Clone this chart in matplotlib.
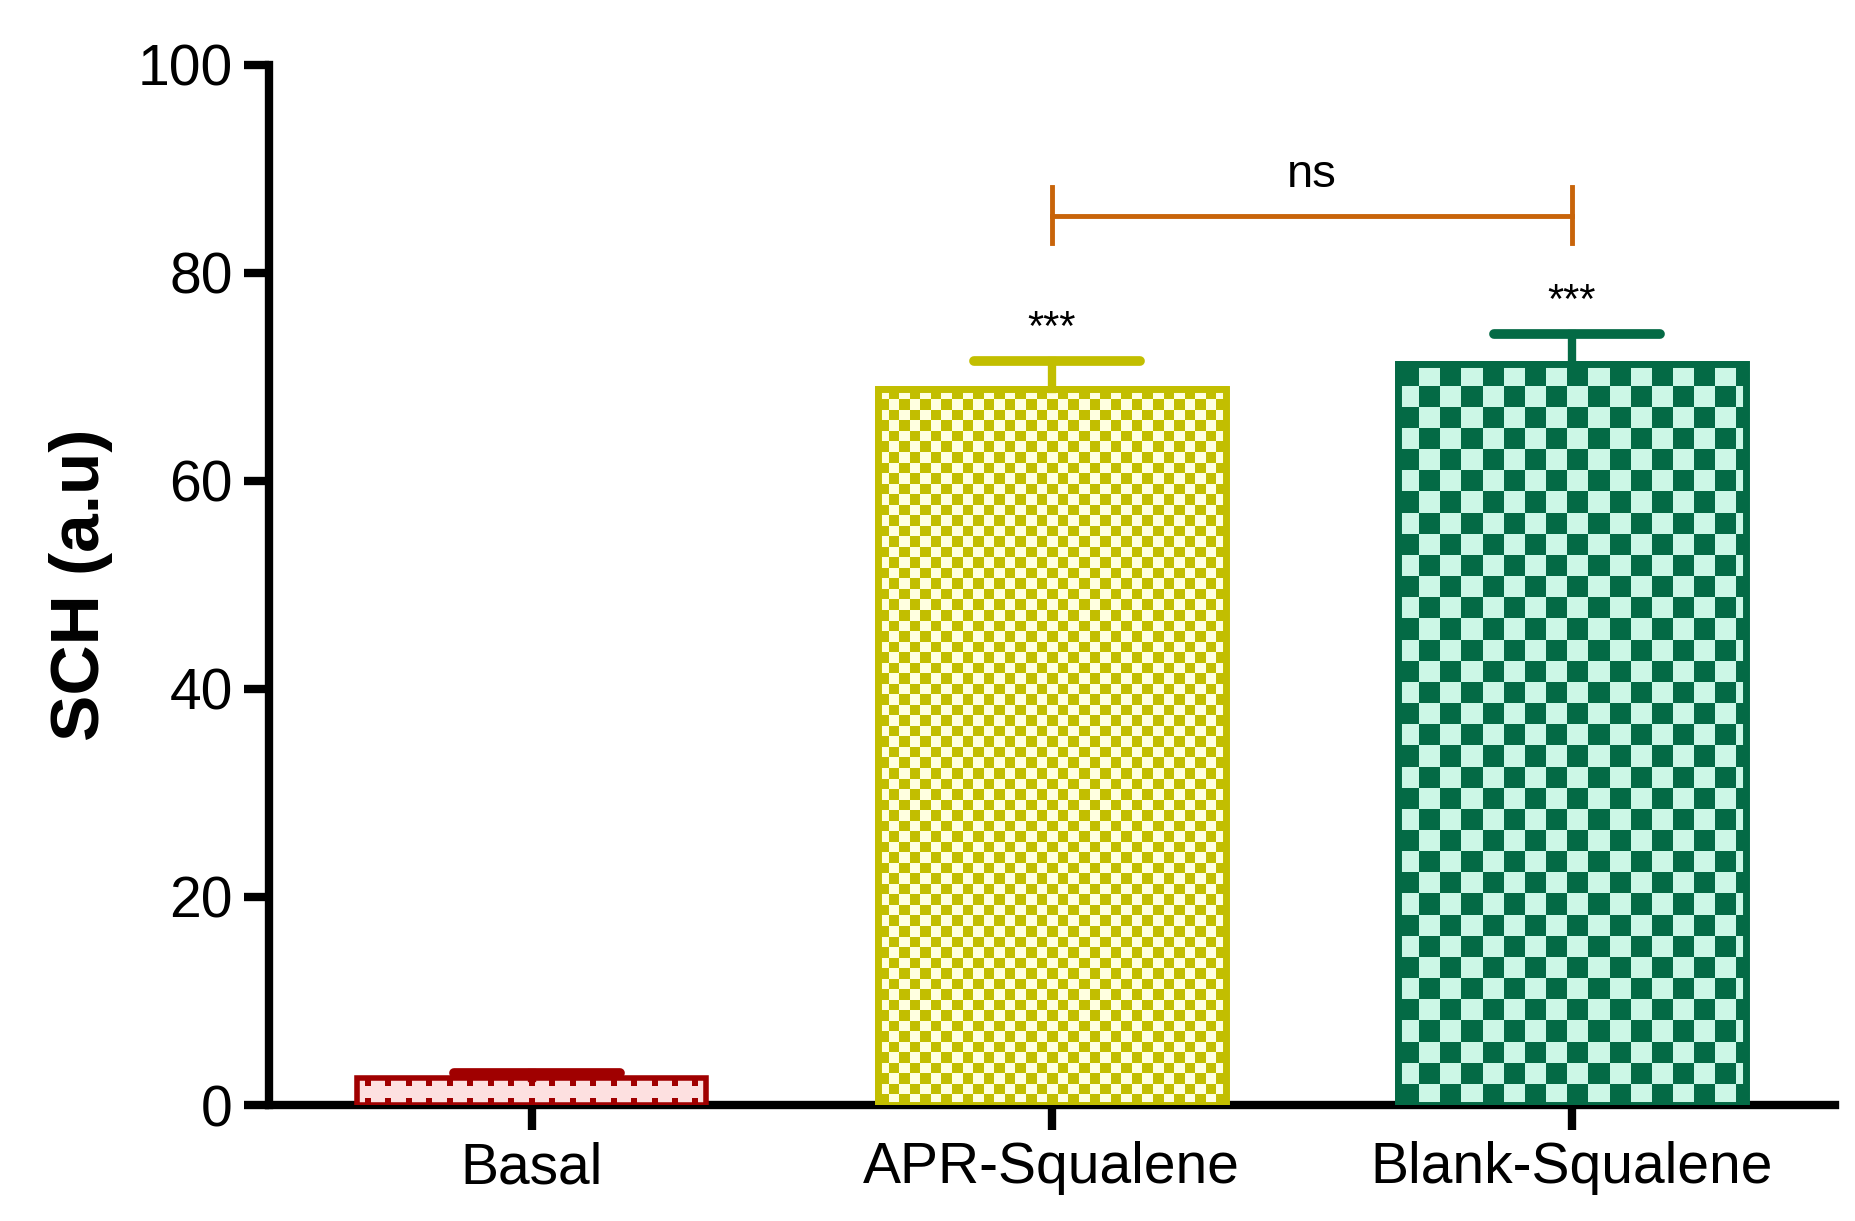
import numpy as np
import matplotlib.pyplot as plt
from matplotlib.colors import ListedColormap

plt.rcParams['font.family'] = ['Liberation Sans', 'DejaVu Sans']

groups = ['Basal', 'APR-Squalene', 'Blank-Squalene']
means = [2.6, 68.8, 71.2]
errs = [0.5, 2.7, 2.9]
stars = ['', '***', '***']
dark = ['#A00000', '#C2BE00', '#046A45']
light = ['#FDE0E0', '#FFFFE0', '#CCF7E6']
cells_x = [0, 33, 16.5]   # checker squares across bar

fig = plt.figure(figsize=(18.55, 12.21), dpi=100)
ax = fig.add_axes([0.145, 0.095, 0.844, 0.852])
width = 0.67
x = np.arange(len(groups))

for i in range(len(groups)):
    bars = ax.bar(x[i], means[i], width, facecolor=light[i], edgecolor=dark[i],
                  linewidth=4, zorder=3)
    patch = bars[0]
    if cells_x[i]:
        nx = cells_x[i]
        cell_px = 348.0 * 1.0 / 16.5 if i == 2 else 10.5
        bar_px = means[i] * 8.77 * 1.183
        ny = bar_px / cell_px
        nxi, nyi = int(np.ceil(nx)), int(np.ceil(ny))
        board = (np.add.outer(np.arange(nyi), np.arange(nxi)) % 2).astype(float)
        x0 = x[i] - width / 2
        x1 = x0 + width * nxi / nx
        y1 = means[i] * nyi / ny
        im = ax.imshow(board, cmap=ListedColormap([dark[i], light[i]]),
                       extent=[x0, x1, 0, y1], origin='lower', aspect='auto',
                       interpolation='nearest', zorder=3)
        im.set_clip_path(patch)
        ax.bar(x[i], means[i], width, facecolor='none', edgecolor=dark[i],
               linewidth=5, zorder=4)
    else:
        # dotted pattern of basal bar
        xs = np.linspace(x[i] - width / 2 + 0.02, x[i] + width / 2 - 0.02, 17)
        ax.scatter(xs, np.full_like(xs, 0.35), marker='s', s=18, color=dark[i], zorder=4, lw=0)
        ax.scatter(xs, np.full_like(xs, means[i] - 0.45), marker='s', s=18, color=dark[i], zorder=4, lw=0)
    top = means[i] + errs[i]
    ax.plot([x[i], x[i]], [means[i], top], color=dark[i], lw=6, zorder=4)
    ax.plot([x[i] - 0.15, x[i] + 0.17], [top, top], color=dark[i], lw=7,
            solid_capstyle='round', zorder=4)
    if stars[i]:
        ax.text(x[i], top + 1.2, stars[i], ha='center', va='bottom', fontsize=30)

# significance bracket
bc = '#C8640A'
ax.plot([1, 2], [85.5, 85.5], color=bc, lw=3.5)
ax.plot([1, 1], [82.9, 88.2], color=bc, lw=3.5)
ax.plot([2, 2], [82.9, 88.2], color=bc, lw=3.5)
ax.text(1.5, 87.3, 'ns', ha='center', va='bottom', fontsize=34)

ax.set_xlim(-0.505, 2.505)
ax.set_ylim(0, 100)
ax.set_yticks([0, 20, 40, 60, 80, 100])
ax.set_xticks(x)
ax.set_xticklabels(groups)
for s in ['top', 'right']:
    ax.spines[s].set_visible(False)
for s in ['left', 'bottom']:
    ax.spines[s].set_linewidth(6)
ax.tick_params(axis='both', width=6, length=18, labelsize=41, pad=8)
ax.set_ylabel('SCH (a.u)', fontsize=50, fontweight='bold', labelpad=18)

fig.savefig('out.png', dpi=100)
